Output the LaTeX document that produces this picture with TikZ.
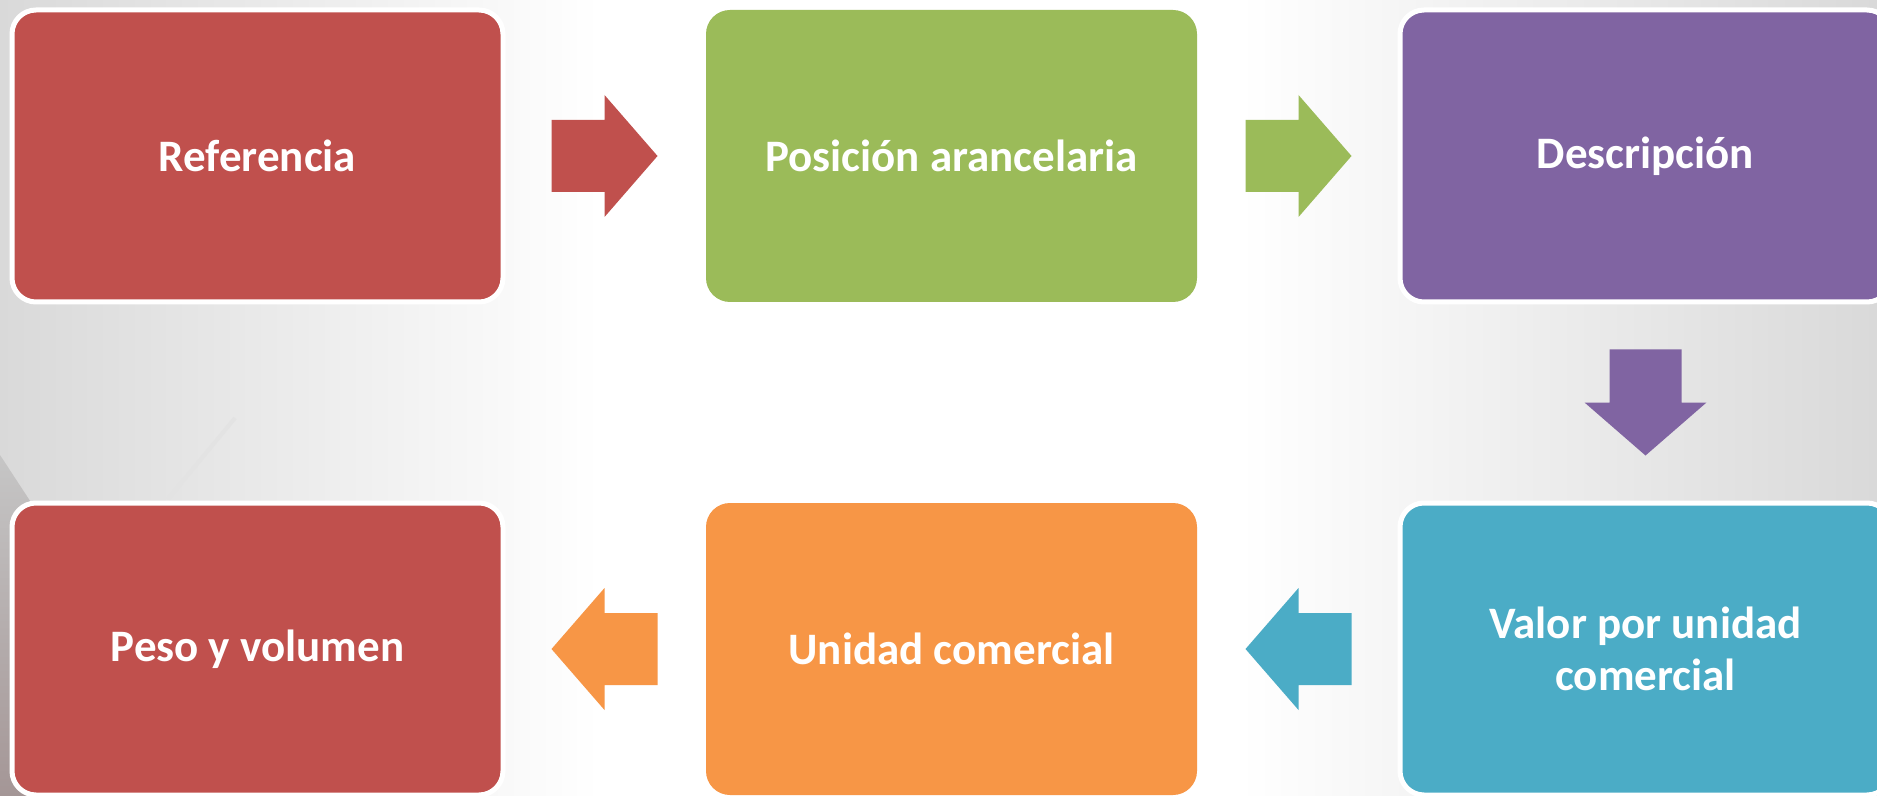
\documentclass[tikz,border=0pt]{standalone}
\usepackage{fontspec}
\setmainfont{Carlito}
\usepackage{tikz}
\usetikzlibrary{calc,positioning}
\definecolor{boxred}{HTML}{C0504D}
\definecolor{boxgreen}{HTML}{9BBB59}
\definecolor{boxpurple}{HTML}{8064A2}
\definecolor{boxcyan}{HTML}{4BACC6}
\definecolor{boxorange}{HTML}{F79646}
\definecolor{bggrey}{HTML}{D9D9D9}
\definecolor{edgegrey}{HTML}{A49696}
\pgfdeclarehorizontalshading{bg-fade}{100bp}{color(0bp)=(bggrey); color(25bp)=(bggrey); color(41bp)=(white); color(58bp)=(white); color(75bp)=(bggrey); color(100bp)=(bggrey)}
\tikzset{
    step-box/.style = {fill=#1, rectangle, rounded corners=12pt, minimum width=245.5pt, minimum height=146pt, inner sep=0pt, outer sep=0pt, text=white, font=\fontsize{22.5}{26}\selectfont\bfseries, align=center},
    step-box-edge/.style = {step-box=#1, draw=white, line width=2.5pt},
    pics/block-arrow/.style = {code={\fill[#1] (-53,-36) -- (0,-36) -- (0,-61) -- (53,0) -- (0,61) -- (0,36) -- (-53,36) -- cycle;}},
}

\begin{document}
\begin{tikzpicture}[x=0.5pt, y=-0.5pt]
\path[use as bounding box] (0,0) rectangle (1877,796);
\clip (0,0) rectangle (1877,796);
% background
\shade[shading=bg-fade] (0,0) rectangle (1877,796);
\shade[top color=gray!45, bottom color=edgegrey] (0,455) -- (36,510) -- (36,796) -- (0,796) -- cycle;
\draw[gray!22, line width=2pt] (168,499) -- (235,418);

\node [step-box-edge=boxred] (ref) at (257.5,156) {Referencia};
\node [step-box=boxgreen, right=101.5pt of ref] (pos) {Posición arancelaria};
\node [step-box-edge=boxpurple, right=101.5pt of pos] (desc) {Descripción};
\node [step-box-edge=boxcyan, below=100.5pt of desc] (val) {Valor por unidad\\comercial};
\node [step-box=boxorange, left=101.5pt of val] (unid) {Unidad comercial};
\node [step-box-edge=boxred, left=101.5pt of unid] (peso) {Peso y volumen};

\pic at ($(ref.east)!0.5!(pos.west)$) {block-arrow=boxred};
\pic at ($(pos.east)!0.5!(desc.west)$) {block-arrow=boxgreen};
\pic[rotate=-90] at ($(desc.south)!0.5!(val.north)$) {block-arrow=boxpurple};
\pic[rotate=180] at ($(val.west)!0.5!(unid.east)$) {block-arrow=boxcyan};
\pic[rotate=180] at ($(unid.west)!0.5!(peso.east)$) {block-arrow=boxorange};
\end{tikzpicture}
\end{document}
